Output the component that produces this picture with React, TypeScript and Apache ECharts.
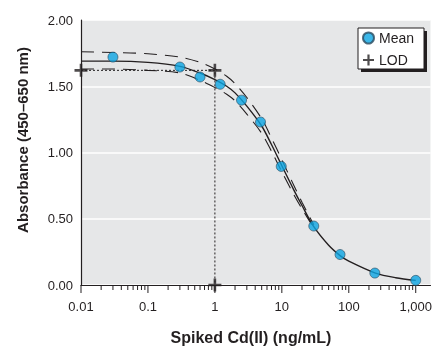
import React, { useEffect, useRef } from 'react';
import * as echarts from 'echarts';

const meanX = [0.03, 0.3, 0.6, 1.2, 2.5, 4.8, 9.8, 30, 74, 245, 1000];
const meanY = [1.72, 1.645, 1.57, 1.515, 1.395, 1.23, 0.895, 0.445, 0.23, 0.09, 0.035];

const fitX = [0.01, 0.03, 0.1, 0.3, 0.6, 1, 1.5, 2, 3, 5, 7, 10, 15, 20, 30, 50, 75, 100, 250, 500, 1000];
const fitY = [1.69, 1.69, 1.68, 1.65, 1.6, 1.55, 1.5, 1.45, 1.35, 1.2, 1.06, 0.9, 0.72, 0.6, 0.44, 0.3, 0.22, 0.18, 0.09, 0.055, 0.035];

const bandX = [0.01, 0.03, 0.1, 0.3, 0.6, 1, 1.5, 2, 3, 5, 7, 10, 15, 20, 30];
const upperY = [1.76, 1.755, 1.745, 1.72, 1.68, 1.63, 1.575, 1.52, 1.415, 1.255, 1.11, 0.945, 0.755, 0.625, 0.455];
const lowerY = [1.63, 1.63, 1.62, 1.6, 1.545, 1.49, 1.44, 1.39, 1.29, 1.145, 1.01, 0.855, 0.685, 0.575, 0.43];

const lodX = [0.01, 1, 1];
const lodY = [1.62, 1.62, 0];

const majorTicks = [0.01, 0.1, 1, 10, 100, 1000];
const yTickLabels = ['0.00', '0.50', '1.00', '1.50', '2.00'];

const FONT = '"Liberation Sans Narrow", "Liberation Sans", Arial, sans-serif';
const INK = '#231f20';
const PLUS = 'path://M4,0H6V4H10V6H6V10H4V6H0V4H4Z';

const zip = (xs: number[], ys: number[]) => xs.map((x, i) => [x, ys[i]]);

export default function App() {
  const ref = useRef<HTMLDivElement>(null);
  useEffect(() => {
    const chart = echarts.init(ref.current!, null, { renderer: 'svg' });
    const minorTicks: number[] = [];
    for (let e = -2; e < 3; e++) for (let k = 2; k <= 9; k++) minorTicks.push(k * Math.pow(10, e));
    const tickData = [
      ...majorTicks.map((v) => [v, 8]),
      ...minorTicks.map((v) => [v, 5]),
    ];
    const option: any = {
      animation: false,
      grid: {
        left: 81,
        right: 0,
        top: 20,
        bottom: 62,
        show: true,
        backgroundColor: '#e6e7e8',
        borderWidth: 0,
      },
      xAxis: {
        type: 'log',
        logBase: 10,
        min: 0.01,
        max: 1660,
        axisLine: { show: true, lineStyle: { color: INK, width: 1.2 } },
        axisTick: { show: false },
        splitLine: { show: false },
        axisLabel: {
          margin: 15,
          fontFamily: FONT,
          fontSize: 13,
          color: INK,
          showMaxLabel: false,
          formatter: (v: number) => {
            const e = Math.log10(v);
            if (Math.abs(e - Math.round(e)) > 1e-6) return '';
            const r = Math.round(e);
            if (r < 0) return v.toFixed(-r);
            return Math.round(v).toLocaleString('en-US');
          },
        },
      },
      yAxis: {
        type: 'value',
        min: 0,
        max: 2,
        interval: 0.5,
        axisLine: { show: true, lineStyle: { color: INK, width: 1.2 } },
        axisTick: { show: false },
        splitLine: { show: true, lineStyle: { color: '#ffffff', width: 1.5 } },
        axisLabel: {
          margin: 8,
          fontFamily: FONT,
          fontSize: 13,
          color: INK,
          formatter: (v: number) => yTickLabels[Math.round(v / 0.5)] ?? v.toFixed(2),
        },
      },
      legend: {
        show: true,
        selectedMode: false,
        orient: 'vertical',
        left: 362,
        top: 31,
        padding: 0,
        itemGap: 8,
        itemWidth: 11,
        itemHeight: 11,
        z: 20,
        textStyle: { fontFamily: FONT, fontSize: 14, color: INK },
        data: [
          { name: 'Mean', icon: 'circle' },
          { name: 'LOD', icon: PLUS },
        ],
      },
      graphic: [
        { type: 'rect', z: 10, shape: { x: 361, y: 31, width: 66, height: 41 }, style: { fill: INK } },
        { type: 'rect', z: 11, shape: { x: 358, y: 28, width: 66, height: 41 }, style: { fill: '#ffffff', stroke: INK, lineWidth: 1 } },
        {
          type: 'text',
          x: 251,
          y: 337,
          style: {
            text: 'Spiked Cd(II) (ng/mL)',
            fontFamily: FONT,
            fontWeight: 'bold',
            fontSize: 16,
            fill: INK,
            align: 'center',
            verticalAlign: 'middle',
          },
        },
        {
          type: 'text',
          x: 22,
          y: 140,
          rotation: Math.PI / 2,
          style: {
            text: 'Absorbance (450–650 nm)',
            fontFamily: FONT,
            fontWeight: 'bold',
            fontSize: 15,
            fill: INK,
            align: 'center',
            verticalAlign: 'middle',
          },
        },
      ],
      series: [
        {
          name: 'ticks',
          type: 'custom',
          clip: false,
          silent: true,
          data: tickData,
          renderItem: (params: any, api: any) => {
            const x = api.value(0);
            const len = api.value(1);
            const p = api.coord([x, 0]);
            return {
              type: 'line',
              shape: { x1: p[0], y1: p[1], x2: p[0], y2: p[1] + len },
              style: { stroke: INK, lineWidth: 1 },
            };
          },
        },
        {
          name: 'Upper',
          type: 'line',
          data: zip(bandX, upperY),
          smooth: 0.3,
          symbol: 'none',
          lineStyle: { color: INK, width: 1.1, type: [13, 8] },
        },
        {
          name: 'Lower',
          type: 'line',
          data: zip(bandX, lowerY),
          smooth: 0.3,
          symbol: 'none',
          lineStyle: { color: INK, width: 1.1, type: [13, 8] },
        },
        {
          name: 'Fit',
          type: 'line',
          data: zip(fitX, fitY),
          smooth: 0.3,
          symbol: 'none',
          lineStyle: { color: INK, width: 1.4 },
        },
        {
          name: 'LOD line',
          type: 'line',
          data: zip(lodX, lodY),
          symbol: 'none',
          lineStyle: { color: INK, width: 1, type: [2, 2] },
        },
        {
          name: 'LOD',
          type: 'scatter',
          data: zip(lodX, lodY),
          symbol: PLUS,
          symbolSize: 13,
          itemStyle: { color: INK },
          z: 5,
        },
        {
          name: 'Mean',
          type: 'scatter',
          data: zip(meanX, meanY),
          symbol: 'circle',
          symbolSize: 10,
          itemStyle: { color: '#0ba5e2', borderColor: '#2a4a5e', borderWidth: 0.8 },
          z: 6,
        },
      ],
    };
    chart.setOption(option);
    return () => chart.dispose();
  }, []);
  return <div ref={ref} style={{ position: 'fixed', left: 0, top: 0, width: 435, height: 347 }} />;
}
